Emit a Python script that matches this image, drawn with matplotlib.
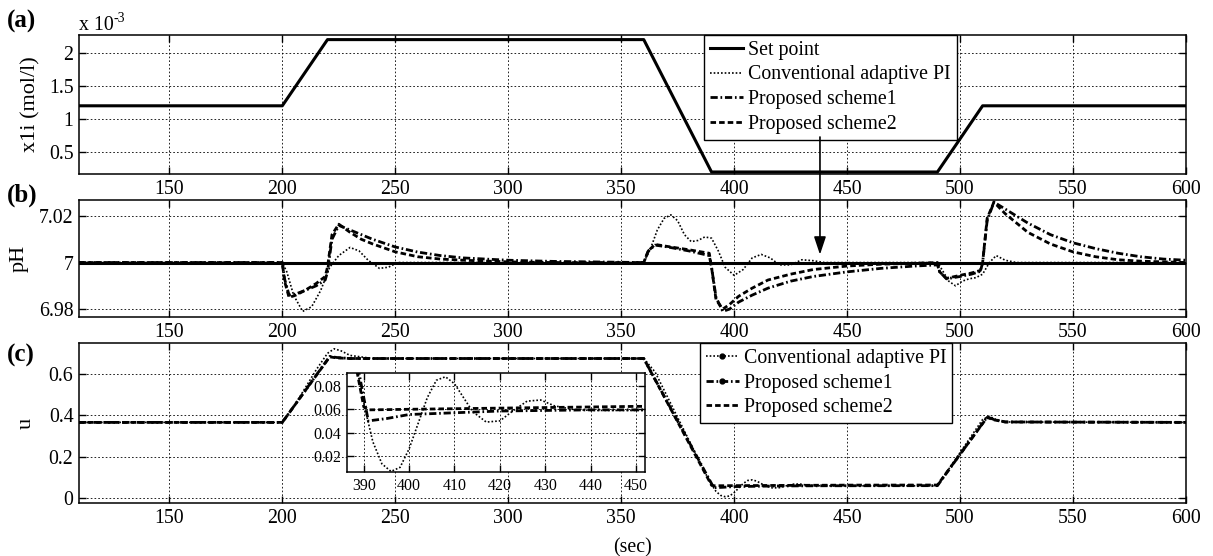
import numpy as np
import matplotlib
matplotlib.use("Agg")
import matplotlib.pyplot as plt
from matplotlib.lines import Line2D
from matplotlib.patches import ConnectionPatch
from matplotlib.ticker import FuncFormatter

plt.rcParams['font.family'] = ['Liberation Serif', 'DejaVu Serif']
plt.rcParams['mathtext.default'] = 'regular'

# (a) inlet concentration set point, mol/l
t_sp = [110, 200, 220, 360, 390, 490, 510, 600]
x1i_sp = [1.2e-3, 1.2e-3, 2.2e-3, 2.2e-3, 0.2e-3, 0.2e-3, 1.2e-3, 1.2e-3]

# (b) pH
t_ph_sp = [110, 600]
ph_sp = [7.0, 7.0]

t_ph_pi = [110, 200, 202, 205, 209, 213, 217, 221, 225, 230, 234, 238, 243, 247, 251, 255,
           360, 363, 366, 369, 372, 375, 378, 381, 384, 387, 390, 393, 396, 400, 404, 408,
           412, 416, 420, 425, 430, 435, 440, 490, 492, 495, 498, 501, 504, 507, 510, 513,
           516, 520, 525, 600]
ph_pi = [7.0, 7.0, 6.996, 6.986, 6.979, 6.981, 6.988, 6.998, 7.003, 7.0065, 7.005, 7.001,
         6.9975, 6.998, 7.0, 7.0, 7.0, 7.006, 7.014, 7.019, 7.0205, 7.018, 7.012, 7.009,
         7.0095, 7.011, 7.0105, 7.005, 6.998, 6.9945, 6.997, 7.002, 7.0035, 7.002, 6.999,
         6.999, 7.0012, 7.0008, 7.0, 7.0, 6.997, 6.992, 6.990, 6.992, 6.993, 6.9935, 6.995,
         7.0, 7.003, 7.001, 7.0, 7.0]

t_ph_s = [110, 200, 201, 203, 206, 210, 215, 219, 220, 222, 225, 230, 235, 240, 250, 260,
          270, 280, 300, 320, 360, 362, 365, 370, 380, 389, 390, 392, 395, 398, 402, 408,
          415, 425, 435, 450, 465, 480, 490, 491, 494, 500, 505, 509, 510, 512, 515, 520,
          530, 540, 550, 560, 570, 580, 590, 600]
ph_s1 = [7.0, 7.0, 6.993, 6.986, 6.9865, 6.988, 6.990, 6.9925, 6.996, 7.010, 7.016, 7.014,
         7.012, 7.010, 7.0067, 7.0045, 7.003, 7.002, 7.001, 7.0005, 7.0, 7.005, 7.0075,
         7.0068, 7.005, 7.003, 6.998, 6.985, 6.979, 6.980, 6.983, 6.986, 6.989, 6.992,
         6.994, 6.996, 6.9975, 6.9985, 6.999, 6.996, 6.993, 6.994, 6.995, 6.9962, 7.0,
         7.018, 7.026, 7.023, 7.017, 7.012, 7.0085, 7.006, 7.004, 7.0025, 7.0015, 7.001]
ph_s2 = [7.0, 7.0, 6.992, 6.985, 6.986, 6.988, 6.991, 6.994, 6.998, 7.012, 7.0165, 7.013,
         7.010, 7.008, 7.0046, 7.0025, 7.0015, 7.001, 7.0003, 7.0, 7.0, 7.005, 7.0078,
         7.007, 7.0055, 7.004, 6.998, 6.984, 6.980, 6.982, 6.9855, 6.989, 6.9925, 6.995,
         6.997, 6.9985, 6.9993, 6.9997, 7.0, 6.996, 6.9932, 6.9945, 6.9955, 6.9966, 7.0,
         7.019, 7.026, 7.021, 7.013, 7.008, 7.0046, 7.0025, 7.0012, 7.0006, 7.0003, 7.0]

# (c) control input u
t_u_pi = [110, 200, 205, 210, 215, 220, 223, 226, 230, 240, 360, 365, 370, 375, 380, 385,
          388, 390, 392, 394, 396, 398, 400, 402, 404, 406, 408, 410, 412, 414, 417, 420,
          423, 426, 429, 432, 436, 440, 450, 490, 495, 500, 505, 510, 513, 516, 520, 600]
u_pi = [0.366, 0.366, 0.44, 0.53, 0.62, 0.70, 0.722, 0.712, 0.69, 0.675, 0.675, 0.61, 0.50,
        0.39, 0.28, 0.17, 0.105, 0.065, 0.032, 0.013, 0.0065, 0.010, 0.026, 0.048, 0.070,
        0.085, 0.088, 0.082, 0.070, 0.058, 0.049, 0.050, 0.059, 0.067, 0.068, 0.063, 0.060,
        0.059, 0.059, 0.059, 0.14, 0.22, 0.30, 0.38, 0.395, 0.38, 0.368, 0.366]

t_u_s = [110, 200, 221, 224, 230, 360, 390, 391, 395, 400, 410, 420, 430, 440, 450, 490,
         512, 515, 520, 600]
u_s1 = [0.366, 0.366, 0.685, 0.68, 0.675, 0.675, 0.07, 0.050, 0.052, 0.0555, 0.057, 0.0585,
        0.059, 0.0595, 0.0595, 0.06, 0.392, 0.38, 0.368, 0.366]
u_s2 = [0.366, 0.366, 0.683, 0.678, 0.675, 0.675, 0.062, 0.0595, 0.0597, 0.060, 0.0605,
        0.061, 0.0615, 0.062, 0.0625, 0.063, 0.39, 0.378, 0.368, 0.366]

x_ticks = np.arange(150, 601, 50)
FS = 14.3

# matlab-like line styles: thin dots, short dashes
DOT = dict(color='k', ls=(0, (1, 1.2)), lw=1.2)
DASHDOT = dict(color='k', ls=(0, (2.6, 1.0, 0.6, 1.0)), lw=2)
DASH = dict(color='k', ls=(0, (2.0, 1.1)), lw=2)


def style(ax, size=FS):
    ax.set_axisbelow(True)
    ax.grid(True, color='k', ls=(0, (2, 2.5)), lw=0.6)
    ax.tick_params(direction='in', top=True, right=True, length=5, width=1,
                   labelsize=size, pad=4)
    for s in ax.spines.values():
        s.set_linewidth(1.1)


fig = plt.figure(figsize=(12.13, 5.56), dpi=100)
L, W = 0.0651, 0.9126
ax_a = fig.add_axes([L, 0.6871, W, 0.25])
ax_b = fig.add_axes([L, 0.4299, W, 0.2104])
ax_c = fig.add_axes([L, 0.0953, W, 0.2878])

# (a)
ax_a.plot(t_sp, x1i_sp, 'k-', lw=2.2, label='Set point')
ax_a.plot([], [], label='Conventional adaptive PI', **DOT)
ax_a.plot([], [], label='Proposed scheme1', **DASHDOT)
ax_a.plot([], [], label='Proposed scheme2', **DASH)
ax_a.set_ylim(0.17e-3, 2.27e-3)
ax_a.set_yticks([0.5e-3, 1e-3, 1.5e-3, 2e-3])
ax_a.yaxis.set_major_formatter(FuncFormatter(lambda v, p: f'{v * 1e3:g}'))
ax_a.set_ylabel('x1i (mol/l)', fontsize=16)
ax_a.yaxis.set_label_coords(-0.035, 0.5)
ax_a.text(0, 1.0, 'x 10', transform=ax_a.transAxes, fontsize=FS, va='bottom')
ax_a.text(0.0315, 1.075, '-3', transform=ax_a.transAxes, fontsize=10, va='bottom')
leg_a = ax_a.legend(loc='upper left', bbox_to_anchor=(0.565, 1.0), borderaxespad=0,
                    fancybox=False, edgecolor='k', framealpha=1, fontsize=FS,
                    handlelength=1.65, handletextpad=0.25, labelspacing=0.28, borderpad=0.3)
leg_a.get_frame().set_linewidth(1.0)

# (b)
ax_b.plot(t_ph_sp, ph_sp, 'k-', lw=2.2)
ax_b.plot(t_ph_pi, ph_pi, **DOT)
ax_b.plot(t_ph_s, ph_s1, **DASHDOT)
ax_b.plot(t_ph_s, ph_s2, **DASH)
ax_b.set_ylim(6.9766, 7.0269)
ax_b.set_yticks([6.98, 7.0, 7.02])
ax_b.yaxis.set_major_formatter(FuncFormatter(lambda v, p: f'{round(v, 4):g}'))
ax_b.set_ylabel('pH', fontsize=16)
ax_b.yaxis.set_label_coords(-0.0455, 0.5)

# (c)
ax_c.plot(t_u_pi, u_pi, **DOT)
ax_c.plot(t_u_s, u_s1, **DASHDOT)
ax_c.plot(t_u_s, u_s2, **DASH)
ax_c.set_ylim(-0.024, 0.75)
ax_c.set_yticks([0, 0.2, 0.4, 0.6])
ax_c.yaxis.set_major_formatter(FuncFormatter(lambda v, p: f'{round(v, 3):g}'))
ax_c.set_ylabel('u', fontsize=16)
ax_c.yaxis.set_label_coords(-0.039, 0.5)
ax_c.set_xlabel('(sec)', fontsize=FS, labelpad=8)
handles_c = [Line2D([], [], marker='.', ms=7, **DOT),
             Line2D([], [], marker='.', ms=7, **DASHDOT),
             Line2D([], [], **DASH)]
leg_c = ax_c.legend(handles_c, ['Conventional adaptive PI', 'Proposed scheme1', 'Proposed scheme2'],
                    loc='upper left', bbox_to_anchor=(0.561, 1.0), borderaxespad=0,
                    fancybox=False, edgecolor='k', framealpha=1, fontsize=FS, numpoints=1,
                    handlelength=1.65, handletextpad=0.25, labelspacing=0.28, borderpad=0.3)
leg_c.get_frame().set_linewidth(1.0)

for ax in (ax_a, ax_b, ax_c):
    ax.set_xlim(110, 600)
    ax.set_xticks(x_ticks)
    style(ax)

# inset zoom of u
ax_in = fig.add_axes([347 / 1213, 1 - 472 / 556, 298 / 1213, 99.3 / 556])
ax_in.plot(t_u_pi, u_pi, **DOT)
ax_in.plot(t_u_s, u_s1, **DASHDOT)
ax_in.plot(t_u_s, u_s2, **DASH)
ax_in.set_xlim(386.3, 452)
ax_in.set_ylim(0.006, 0.0915)
ax_in.set_xticks(np.arange(390, 451, 10))
ax_in.set_yticks([0.02, 0.04, 0.06, 0.08])
style(ax_in, size=11.5)

# arrow from the legend down to the pH panel
con = ConnectionPatch(xyA=(438, 0.266), coordsA=ax_a.get_xaxis_transform(),
                      xyB=(438, 7.0034), coordsB=ax_b.transData,
                      arrowstyle='-|>,head_length=0.6,head_width=0.2',
                      mutation_scale=18, color='k', lw=1.2)
fig.add_artist(con)

for lab, y in (('(a)', 21), ('(b)', 195), ('(c)', 355)):
    fig.text(7 / 1213, 1 - y / 556, lab, fontsize=18, fontweight='bold', va='center', ha='left')

fig.savefig('out.png', dpi=100)
